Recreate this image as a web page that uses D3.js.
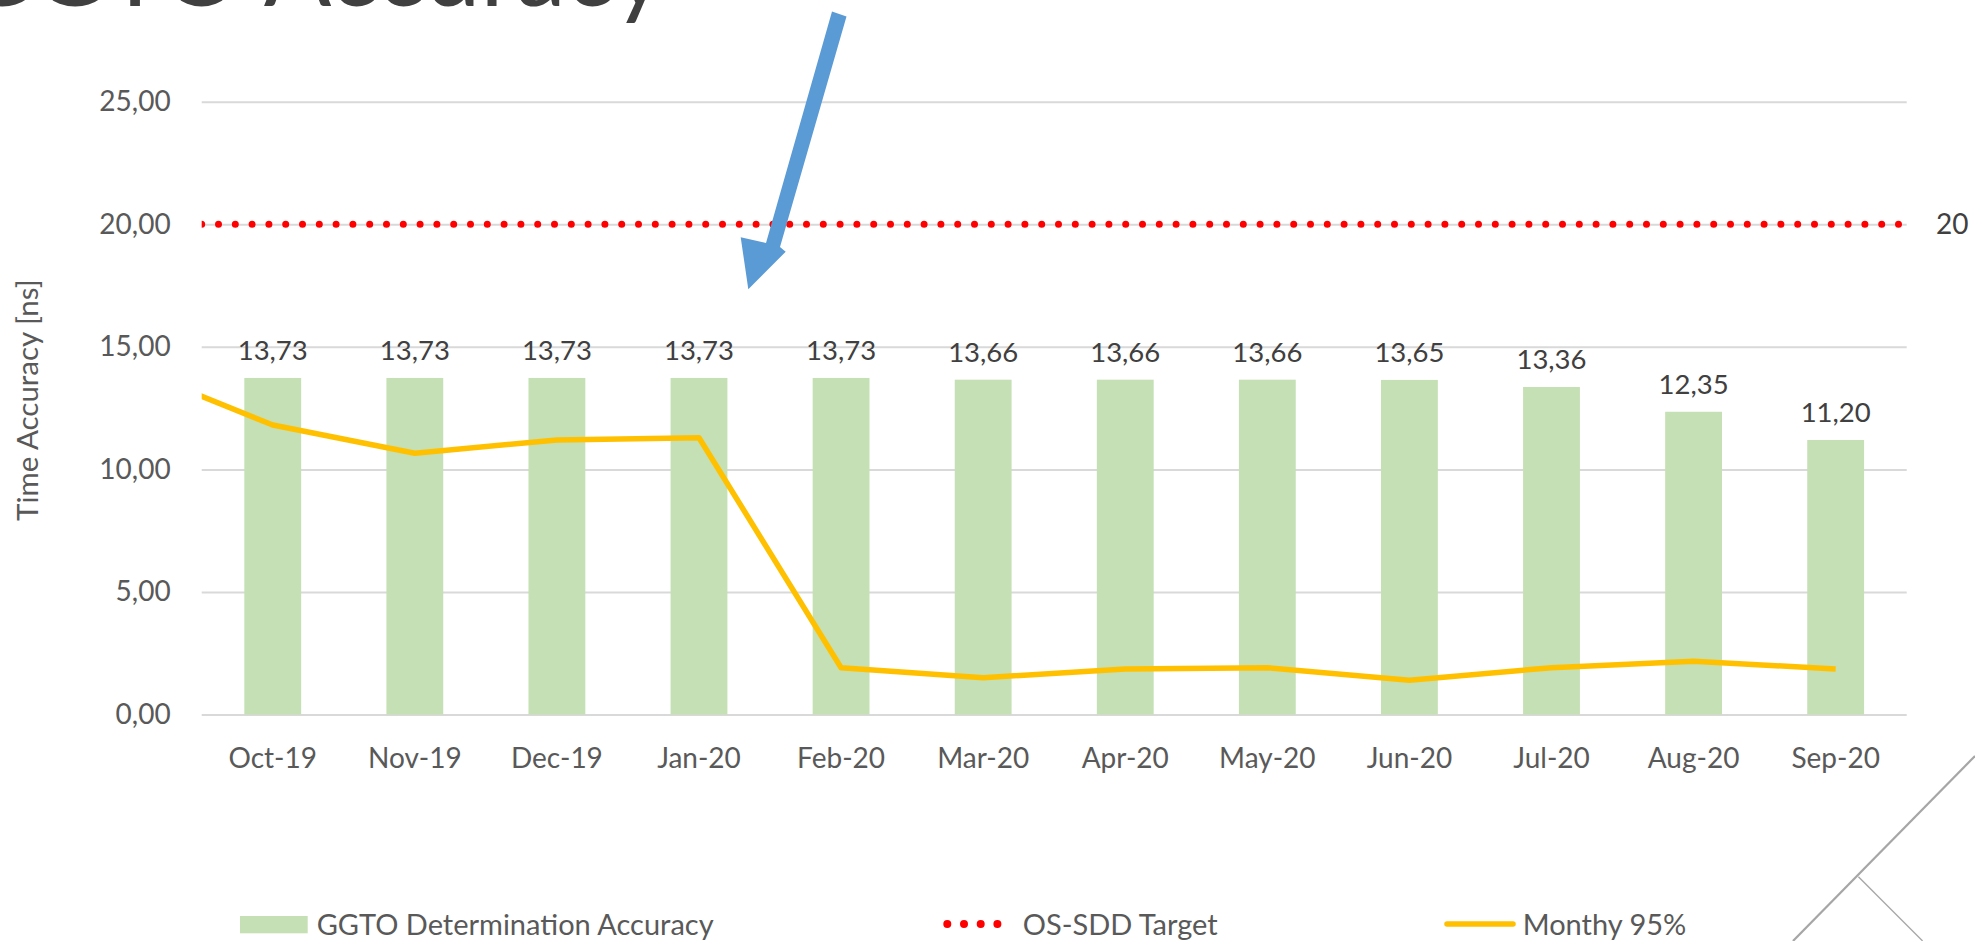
<!DOCTYPE html>
<html>
<head>
<meta charset="utf-8">
<script src="https://cdn.jsdelivr.net/npm/d3@7"></script>
<style>
  body { margin: 0; background: #fff; overflow: hidden; }
  svg { display: block; font-family: Lato, "Open Sans", sans-serif; }
  .axis .domain { display: none; }
  .grid line { stroke: #d9d9d9; stroke-width: 2; }
  .grid text, .xaxis text { fill: #595959; font-size: 28px; font-family: Lato, "Open Sans", sans-serif; }
</style>
</head>
<body>
<div class="wrapper"></div>
<script>
// data
var months = ["Oct-19", "Nov-19", "Dec-19", "Jan-20", "Feb-20", "Mar-20",
  "Apr-20", "May-20", "Jun-20", "Jul-20", "Aug-20", "Sep-20"];
var ggtoAccuracy = [13.73, 13.73, 13.73, 13.73, 13.73, 13.66, 13.66, 13.66, 13.65, 13.36, 12.35, 11.20];
// monthly 95% starts one month earlier (Sep-19), only its tail shows at the left edge
var monthly95Lead = 14.15;
var monthly95 = [11.81, 10.66, 11.20, 11.29, 1.91, 1.50, 1.86, 1.91, 1.40, 1.91, 2.17, 1.86];
var target = 20;
var yTicks = [0, 5, 10, 15, 20, 25];
var seriesNames = ["GGTO Determination Accuracy", "OS-SDD Target", "Monthy 95%"];

var width = 1975, height = 941;
var plot = {left: 201.7, right: 1906.7, top: 101.7, bottom: 714.5};

var locale = d3.formatLocale({decimal: ",", thousands: ".", grouping: [3], currency: ["", "€"]});
var fmt = locale.format(".2f");

var svg = d3.select(".wrapper").append("svg")
  .attr("width", width)
  .attr("height", height);

svg.append("defs").append("clipPath")
  .attr("id", "plotclip")
  .append("rect")
    .attr("x", plot.left)
    .attr("y", 0)
    .attr("width", plot.right - plot.left)
    .attr("height", height);

var x = d3.scaleBand()
  .domain(months)
  .range([plot.left, plot.right])
  .paddingInner(0.6)
  .paddingOuter(0.3);

var y = d3.scaleLinear()
  .domain([0, 25])
  .range([plot.bottom, plot.top]);

// index -> band centre, so index -1 lands one month before Oct-19
var xi = d3.scaleLinear()
  .domain([0, months.length - 1])
  .range([x(months[0]) + x.bandwidth() / 2, x(months[months.length - 1]) + x.bandwidth() / 2]);

// title, mostly cut off at the top of the slide
svg.append("text")
  .attr("x", 665)
  .attr("y", 6)
  .attr("text-anchor", "end")
  .attr("fill", "#404040")
  .attr("font-size", 100)
  .text("GGTO Accuracy");

// gridlines + y labels
var grid = svg.append("g")
  .attr("class", "axis grid")
  .attr("transform", "translate(" + plot.left + ",0)")
  .call(d3.axisLeft(y).tickValues(yTicks).tickSize(-(plot.right - plot.left)).tickFormat(fmt));
grid.selectAll("text").attr("x", -31);

svg.append("text")
  .attr("transform", "translate(38," + ((plot.top + plot.bottom) / 2 - 8) + ") rotate(-90)")
  .attr("text-anchor", "middle")
  .attr("fill", "#595959")
  .attr("font-size", 29.5)
  .text("Time Accuracy [ns]");

// x labels
var xaxis = svg.append("g")
  .attr("class", "axis xaxis")
  .attr("transform", "translate(0," + plot.bottom + ")")
  .call(d3.axisBottom(x).tickSize(0));
xaxis.selectAll("text").attr("y", 44).attr("dy", "0.35em");

// bars
svg.append("g")
  .selectAll("rect")
  .data(ggtoAccuracy)
  .enter().append("rect")
    .attr("x", function(d, i) { return x(months[i]); })
    .attr("y", function(d) { return y(d); })
    .attr("width", x.bandwidth())
    .attr("height", function(d) { return y(0) - y(d); })
    .attr("fill", "#c5e0b4");

// bar labels
svg.append("g")
  .selectAll("text")
  .data(ggtoAccuracy)
  .enter().append("text")
    .attr("x", function(d, i) { return x(months[i]) + x.bandwidth() / 2; })
    .attr("y", function(d) { return y(d) - 18; })
    .attr("text-anchor", "middle")
    .attr("fill", "#404040")
    .attr("font-size", 27.5)
    .text(function(d) { return fmt(d); });

// target line
svg.append("line")
  .attr("clip-path", "url(#plotclip)")
  .attr("x1", plot.left)
  .attr("x2", plot.right + 4)
  .attr("y1", y(target))
  .attr("y2", y(target))
  .attr("stroke", "#ff0000")
  .attr("stroke-width", 7)
  .attr("stroke-linecap", "round")
  .attr("stroke-dasharray", "0 16.8");

svg.append("text")
  .attr("x", 1936)
  .attr("y", y(target))
  .attr("dy", "0.35em")
  .attr("fill", "#404040")
  .attr("font-size", 28)
  .text(target);

// monthly 95% line
var lineData = [monthly95Lead].concat(monthly95);
var line = d3.line()
  .x(function(d, i) { return xi(i - 1); })
  .y(function(d) { return y(d); });

svg.append("path")
  .datum(lineData)
  .attr("clip-path", "url(#plotclip)")
  .attr("d", line)
  .attr("fill", "none")
  .attr("stroke", "#ffc000")
  .attr("stroke-width", 5.5)
  .attr("stroke-linejoin", "round");

// arrow annotation
svg.append("path")
  .attr("d", "M832,11.5 L846.5,16.5 L780,247 L785.7,251.7 L748.3,289.3 L740.7,237.3 L766,243 Z")
  .attr("fill", "#5b9bd5");

// legend
var legend = svg.append("g")
  .attr("font-size", 29)
  .attr("fill", "#595959");

legend.append("rect")
  .attr("x", 240)
  .attr("y", 916)
  .attr("width", 67.7)
  .attr("height", 17.3)
  .attr("fill", "#c5e0b4");
legend.append("text")
  .attr("x", 316.7)
  .attr("y", 925)
  .attr("dy", "0.35em")
  .text(seriesNames[0]);

legend.append("line")
  .attr("x1", 947.3)
  .attr("x2", 998)
  .attr("y1", 924)
  .attr("y2", 924)
  .attr("stroke", "#ff0000")
  .attr("stroke-width", 8)
  .attr("stroke-linecap", "round")
  .attr("stroke-dasharray", "0 16.7");
legend.append("text")
  .attr("x", 1022.7)
  .attr("y", 925)
  .attr("dy", "0.35em")
  .text(seriesNames[1]);

legend.append("line")
  .attr("x1", 1447)
  .attr("x2", 1513)
  .attr("y1", 924)
  .attr("y2", 924)
  .attr("stroke", "#ffc000")
  .attr("stroke-width", 5.5)
  .attr("stroke-linecap", "round");
legend.append("text")
  .attr("x", 1522.7)
  .attr("y", 925)
  .attr("dy", "0.35em")
  .text(seriesNames[2]);

// slide decoration bottom right
var deco = svg.append("g")
  .attr("stroke", "#a6a6a6")
  .attr("fill", "none");
deco.append("line")
  .attr("x1", 1975).attr("y1", 756)
  .attr("x2", 1793).attr("y2", 941)
  .attr("stroke-width", 2.2);
deco.append("line")
  .attr("x1", 1858.4).attr("y1", 876.7)
  .attr("x2", 1922.6).attr("y2", 941)
  .attr("stroke-width", 1.3);
</script>
</body>
</html>
